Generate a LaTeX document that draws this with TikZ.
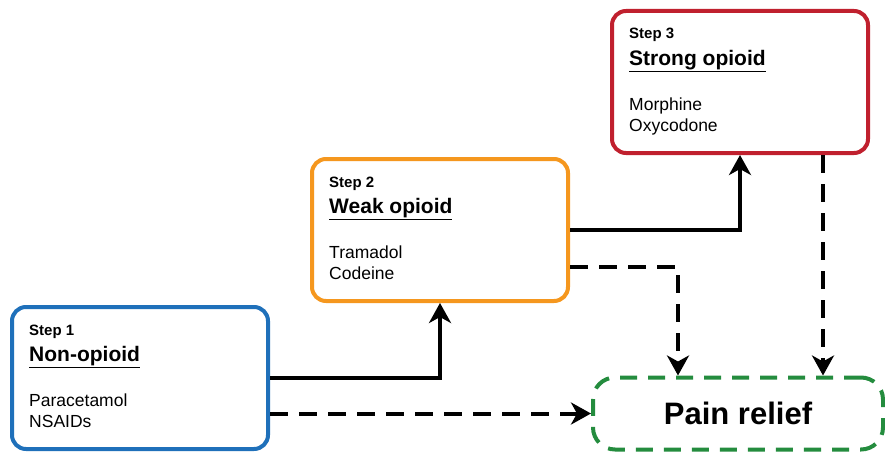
\documentclass[tikz,border=0pt]{standalone}
\usepackage{fontspec}
\setmainfont{Liberation Sans}
\usetikzlibrary{arrows.meta,positioning}
\definecolor{blue}{RGB}{31, 112, 186}
\definecolor{orange}{RGB}{245, 151, 30}
\definecolor{red}{RGB}{192, 32, 46}
\definecolor{green}{RGB}{36, 140, 62}
\tikzset{
  stepbox/.style={draw=#1, line width=4pt, rounded corners=14pt, minimum width=256pt, minimum height=142pt, fill=white},
  steptext/.style={anchor=base west, inner sep=0pt, font=#1},
  reliefbox/.style={draw=green, line width=4pt, dash pattern=on 17pt off 11pt, rounded corners=22pt, minimum width=290pt, minimum height=72pt, font=\bfseries\fontsize{31}{36}\selectfont},
  go/.style={line width=4pt, -{Stealth[length=20pt, width=22pt, inset=6pt]}},
  maybe/.style={go, dash pattern=on 18pt off 11pt}
}
\newcommand{\ladderstep}[8]{
  \node[stepbox=#2] (#1) at (#3, #4) {};
  \node[steptext=\bfseries\fontsize{15}{18}\selectfont] at ([shift={(19,30)}]#1.north west) {#5};
  \node[steptext=\bfseries\fontsize{21}{25}\selectfont] at ([shift={(19,56)}]#1.north west) {\underline{#6}};
  \node[steptext=\fontsize{17.5}{20}\selectfont] at ([shift={(19,101)}]#1.north west) {#7};
  \node[steptext=\fontsize{17.5}{20}\selectfont] at ([shift={(19,122)}]#1.north west) {#8};
}

\begin{document}
\begin{tikzpicture}[x=1pt, y=-1pt]
      \useasboundingbox (0,0) rectangle (885,452);

      \ladderstep{one}{blue}{140}{378}{Step 1}{Non-opioid}{Paracetamol}{NSAIDs}
      \ladderstep{two}{orange}{440}{230}{Step 2}{Weak opioid}{Tramadol}{Codeine}
      \ladderstep{three}{red}{740}{82}{Step 3}{Strong opioid}{Morphine}{Oxycodone}

      \node[reliefbox] (relief) at (738, 413.5) {Pain relief};

      \draw[go] (one.east) -| (two.south);
      \draw[go] (two.east) -| (three.south);

      \coordinate (drop2) at ([yshift=-37pt]two.east);
      \coordinate (drop3) at ([xshift=83pt]three.south);
      \draw[maybe] (one.east |- relief.west) -- (relief.west);
      \draw[maybe] (drop2) -| ([xshift=-60pt]relief.north);
      \draw[maybe] (drop3) -- (drop3 |- relief.north);
    \end{tikzpicture}
\end{document}
